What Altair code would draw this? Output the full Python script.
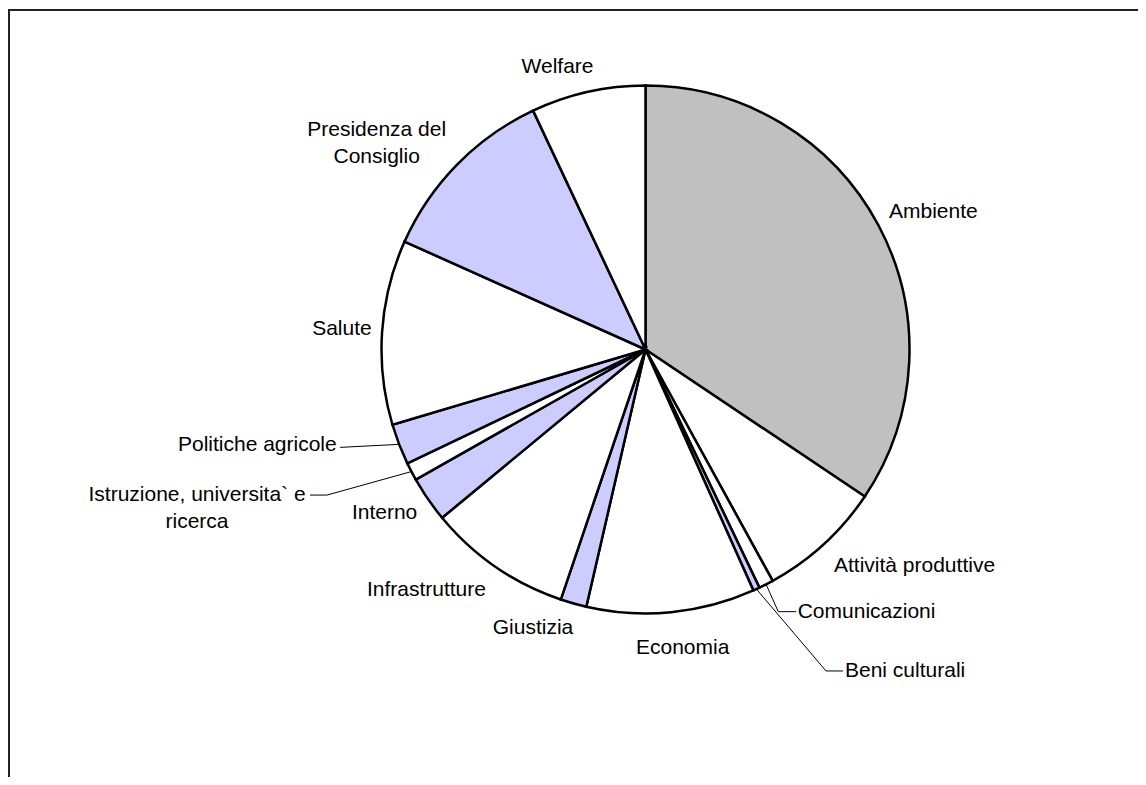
import altair as alt
import pandas as pd

# ---- data (percent of total) ----
CATS = [
    "Ambiente", "Attività produttive", "Comunicazioni", "Beni culturali",
    "Economia", "Giustizia", "Infrastrutture", "Interno",
    "Istruzione, universita` e ricerca", "Politiche agricole", "Salute",
    "Presidenza del Consiglio", "Welfare",
]
VALUES = [34.4, 7.6, 0.9, 0.4, 10.3, 1.6, 8.8, 2.8, 1.1, 2.5, 11.3, 11.3, 7.0]
LABELS = [
    "Ambiente", "Attività produttive", "Comunicazioni", "Beni culturali",
    "Economia", "Giustizia", "Infrastrutture", "Interno",
    "Istruzione, universita` e\nricerca", "Politiche agricole", "Salute",
    "Presidenza del\nConsiglio", "Welfare",
]

# ---- style ----
GRAY, LILAC, WHITE = "#C0C0C0", "#CCCCFF", "#FFFFFF"
FILLS = [GRAY, WHITE, WHITE, LILAC, WHITE, LILAC, WHITE, LILAC, WHITE, LILAC,
         WHITE, LILAC, WHITE]

# label layout: alignment and offset (px) from the slice's mid point on the rim
LABEL_LAYOUT = {
    "Ambiente": ("left", 10.6, -13.5),
    "Attività produttive": ("left", 10.2, 21.8),
    "Comunicazioni": ("left", 31.6, 27.3),
    "Beni culturali": ("left", 88.6, 81.9),
    "Economia": ("center", 11.5, 35.7),
    "Giustizia": ("right", -0.2, 24.8),
    "Infrastrutture": ("right", -9.8, 23.1),
    "Interno": ("right", -10.8, 13.4),
    "Istruzione, universita` e ricerca": ("center", -214.4, 23.5),
    "Politiche agricole": ("right", -62.4, 0.6),
    "Salute": ("right", -10.4, -2.8),
    "Presidenza del Consiglio": ("center", -80.4, -34.6),
    "Welfare": ("center", -30.4, -25.2),
}
# leader line segments, offsets from the slice's mid point on the rim
LEADERS = {
    "Comunicazioni": [[0, 0, 12.2, 27.3], [12.2, 27.3, 30, 27.3]],
    "Beni culturali": [[0, 0, 69.6, 81.9], [69.6, 81.9, 86.6, 81.9]],
    "Politiche agricole": [[0, 0, -59, 3]],
    "Istruzione, universita` e ricerca": [[0, 0, -84.4, 23.5], [-84.4, 23.5, -101.4, 23.5]],
}

W, H = 1130, 769
CX, CY, R = 637.5, 341.5, 264
FONT = "Liberation Sans"
FS = 21

df = pd.DataFrame({
    "cat": CATS,
    "value": VALUES,
    "idx": list(range(len(CATS))),
    "label": LABELS,
    "al": [LABEL_LAYOUT[c][0] for c in CATS],
    "ox": [LABEL_LAYOUT[c][1] for c in CATS],
    "oy": [LABEL_LAYOUT[c][2] for c in CATS],
    "segs": [LEADERS.get(c, []) for c in CATS],
})

base = (
    alt.Chart(df)
    .transform_window(cum="sum(value)", sort=[alt.SortField("idx")], frame=[None, 0])
    .transform_joinaggregate(total="sum(value)")
    .transform_calculate(
        mid="(datum.cum - datum.value / 2) / datum.total * 2 * PI",
    )
    .transform_calculate(
        ex=f"{CX} + {R} * sin(datum.mid)",
        ey=f"{CY} - {R} * cos(datum.mid)",
    )
    .transform_calculate(
        lx="datum.ex + datum.ox",
        ly="datum.ey + datum.oy",
    )
)

pie = alt.Chart(df).mark_arc(outerRadius=R, stroke="black", strokeWidth=2.5).encode(
    theta=alt.Theta("value:Q", stack=True),
    order=alt.Order("idx:Q", sort="ascending"),
    color=alt.Color("cat:N", scale=alt.Scale(domain=CATS, range=FILLS), legend=None),
    x=alt.value(CX),
    y=alt.value(CY),
)

leaders = (
    base.transform_flatten(["segs"])
    .transform_calculate(
        x1="datum.ex + datum.segs[0]",
        y1="datum.ey + datum.segs[1]",
        x2="datum.ex + datum.segs[2]",
        y2="datum.ey + datum.segs[3]",
    )
    .mark_rule(color="black", strokeWidth=1)
    .encode(
        x=alt.X("x1:Q", scale=None, axis=None),
        y=alt.Y("y1:Q", scale=None, axis=None),
        x2="x2:Q",
        y2="y2:Q",
    )
)


def text_layer(align):
    return (
        base.transform_filter(f"datum.al == '{align}'")
        .mark_text(align=align, baseline="middle", font=FONT, fontSize=FS,
                   color="black", lineBreak="\n", lineHeight=26.6)
        .encode(
            x=alt.X("lx:Q", scale=None, axis=None),
            y=alt.Y("ly:Q", scale=None, axis=None),
            text="label:N",
        )
    )


border = alt.Chart(pd.DataFrame({"k": [0]})).mark_rect(
    filled=False, stroke="#222222", strokeWidth=2
).encode(
    x=alt.value(1), x2=alt.value(1400), y=alt.value(2), y2=alt.value(1100)
)

chart = (
    alt.layer(border, pie, leaders, text_layer("left"), text_layer("right"),
              text_layer("center"))
    .properties(width=W, height=H, padding=0,
                autosize=alt.AutoSizeParams(type="none"),
                background="white")
    .configure_view(strokeWidth=0)
)

chart.save("out.html", embed_options={"renderer": "svg", "actions": False})
